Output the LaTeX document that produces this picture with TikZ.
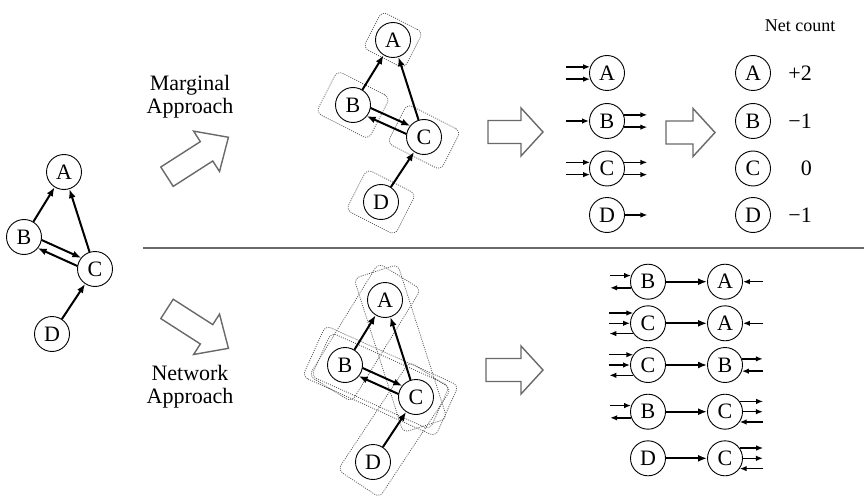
\documentclass[tikz,border=0pt]{standalone}
\usepackage{fontspec}
\setmainfont{Liberation Serif}
\usetikzlibrary{arrows.meta,calc,backgrounds}
\definecolor{shellgray}{RGB}{105,105,105}
\definecolor{boxgray}{RGB}{85,85,85}

\tikzset{
  vtx/.style={circle,draw,fill=white,line width=0.9pt,minimum size=35pt,inner sep=0pt,font=\fontsize{22}{24}\selectfont},
  edge/.style={-{Latex[length=9pt,width=7pt]},line width=2pt},
  dbl/.style={edge,shorten <=17pt,shorten >=17pt},
  stub/.style={-{Latex[length=7pt,width=5.5pt]},line width=1.4pt},
  blockarrow/.style={draw=shellgray,line width=1.4pt,fill=white,line join=miter},
  pairbox/.style={draw=boxgray,dash pattern=on 1pt off 1.2pt,rounded corners=6pt,line width=0.75pt,inner sep=0pt},
  lbl/.style={font=\fontsize{22}{23}\selectfont,align=center,inner sep=0pt},
}

% hollow arrow: tail point, angle, length, head length
\newcommand{\hollowarrow}[4]{%
  \begin{scope}[shift={#1},rotate=#2]
    \draw[blockarrow] (0,-11.5) -- ({#3-#4},-11.5) -- ({#3-#4},-24) -- (#3,0)
      -- ({#3-#4},24) -- ({#3-#4},11.5) -- (0,11.5) -- cycle;
  \end{scope}}

% dotted box round a pair of nodes
\newcommand{\edgebox}[4]{%
  \path let \p1=($(#2)-(#1)$), \n1={atan2(\y1,\x1)}, \n2={veclen(\x1,\y1)} in
    node[pairbox,rotate=\n1,minimum width=\n2+#3,minimum height=#4] (box#1#2) at ($(#1)!0.5!(#2)$) {};}

\begin{document}
\begin{tikzpicture}[x=1pt,y=-1pt]
    \useasboundingbox (0,0) rectangle (864,497);

    % The three copies of the graph
    \foreach \g/\x/\y in {l/64/172, m/393/40, n/385/300} {
        \node[vtx] (\g A) at (\x,\y) {A};
        \node[vtx] (\g B) at ($(\g A)+(-40,65)$) {B};
        \node[vtx] (\g C) at ($(\g A)+(31,97)$) {C};
        \node[vtx] (\g D) at ($(\g A)+(-12,162)$) {D};
        \draw[edge] (\g B) -- (\g A);
        \draw[edge] (\g C) -- (\g A);
        \draw[edge] (\g D) -- (\g C);
        \draw[dbl] ($(\g B)!4.5pt!90:(\g C)$) -- ($(\g C)!4.5pt!-90:(\g B)$);
        \draw[dbl] ($(\g C)!4.5pt!90:(\g B)$) -- ($(\g B)!4.5pt!-90:(\g C)$);
    }

    % Dotted boxes
    \begin{scope}[on background layer]
        \node[pairbox,minimum width=46pt,minimum height=41pt,rotate=-27] (boxA) at (mA) {};
        \node[pairbox,minimum width=59pt,minimum height=47pt,rotate=-27] (boxB) at (mB) {};
        \node[pairbox,minimum width=60pt,minimum height=44pt,rotate=-27] (boxC) at (mC) {};
        \node[pairbox,minimum width=55pt,minimum height=46pt,rotate=-27] (boxD) at (mD) {};
        \edgebox{nB}{nA}{56pt}{50pt}
        \edgebox{nC}{nA}{60pt}{46pt}
        \edgebox{nB}{nC}{52pt}{48pt}
        \edgebox{nC}{nB}{68pt}{56pt}
        \edgebox{nD}{nC}{52pt}{50pt}
    \end{scope}

    % Separator
    \draw[draw=shellgray,line width=1.3pt] (143,248) -- (864,248);

    % Approach labels and hollow arrows
    \node[lbl] (marglbl) at (190,97) {Marginal\\Approach};
    \node[lbl] (netlbl) at (190,387) {Network\\Approach};
    \hollowarrow{(167,176.7)}{32.7}{73}{26}
    \hollowarrow{(167,308.9)}{-32.7}{73}{26}
    \hollowarrow{(488,132)}{0}{55}{22}
    \hollowarrow{(666,132.5)}{0}{49}{22}
    \hollowarrow{(486,370)}{0}{57}{22}

    % Marginal counts
    \node[vtx] (cA) at (607,73) {A};
    \node[vtx] (cB) at (607,121) {B};
    \node[vtx] (cC) at (607,168.5) {C};
    \node[vtx] (cD) at (607,215) {D};
    \draw[stub] ([xshift=-24pt]cA.160) -- (cA.160);
    \draw[stub] ([xshift=-24pt]cA.200) -- (cA.200);
    \draw[stub] ([xshift=-23pt]cB.180) -- (cB.180);
    \draw[stub] (cB.20) -- ([xshift=23.5pt]cB.20);
    \draw[stub] (cB.340) -- ([xshift=23.5pt]cB.340);
    \draw[stub] ([xshift=-24pt]cC.160) -- (cC.160);
    \draw[stub] ([xshift=-24pt]cC.200) -- (cC.200);
    \draw[stub] (cC.20) -- ([xshift=23.5pt]cC.20);
    \draw[stub] (cC.340) -- ([xshift=23.5pt]cC.340);
    \draw[stub] (cD.0) -- ([xshift=22.5pt]cD.0);

    % Net count
    \node[font=\fontsize{18}{20}\selectfont] (nettitle) at (800,26) {Net count};
    \node[vtx] (tA) at (753,73) {A};
    \node[vtx] (tB) at (753,121) {B};
    \node[vtx] (tC) at (753,168.5) {C};
    \node[vtx] (tD) at (753,215) {D};
    \node[lbl,anchor=east] (vA) at (812,73) {+2};
    \node[lbl,anchor=east] (vB) at (812,121) {−1};
    \node[lbl,anchor=east] (vC) at (812,168.5) {0};
    \node[lbl,anchor=east] (vD) at (812,215) {−1};

    % Network pairs
    \node[vtx] (r1L) at (648,281.7) {B};  \node[vtx] (r1R) at (725,281.7) {A};
    \node[vtx] (r2L) at (648,323.3) {C};  \node[vtx] (r2R) at (725,323.3) {A};
    \node[vtx] (r3L) at (648,365) {C};    \node[vtx] (r3R) at (725,365) {B};
    \node[vtx] (r4L) at (648,411.7) {B};  \node[vtx] (r4R) at (725,411.7) {C};
    \node[vtx] (r5L) at (648,458.3) {D};  \node[vtx] (r5R) at (725,458.3) {C};
    \foreach \r in {1,...,5}
        \draw[edge] (r\r L) -- (r\r R);

    \draw[stub] ([xshift=-21pt]r1L.160) -- (r1L.160);
    \draw[stub] (r1L.200) -- ([xshift=-21pt]r1L.200);
    \draw[stub] ([xshift=20pt]r1R.0) -- (r1R.0);

    \draw[stub] ([xshift=-24pt]r2L.145) -- (r2L.145);
    \draw[stub] ([xshift=-21pt]r2L.180) -- (r2L.180);
    \draw[stub] (r2L.215) -- ([xshift=-24pt]r2L.215);
    \draw[stub] ([xshift=20pt]r2R.0) -- (r2R.0);

    \draw[stub] ([xshift=-24pt]r3L.145) -- (r3L.145);
    \draw[stub] ([xshift=-21pt]r3L.180) -- (r3L.180);
    \draw[stub] (r3L.215) -- ([xshift=-24pt]r3L.215);
    \draw[stub] (r3R.20) -- ([xshift=21pt]r3R.20);
    \draw[stub] ([xshift=21pt]r3R.340) -- (r3R.340);

    \draw[stub] ([xshift=-21pt]r4L.160) -- (r4L.160);
    \draw[stub] (r4L.200) -- ([xshift=-21pt]r4L.200);
    \draw[stub] (r4R.35) -- ([xshift=23.5pt]r4R.35);
    \draw[stub] (r4R.0) -- ([xshift=20pt]r4R.0);
    \draw[stub] ([xshift=23.5pt]r4R.325) -- (r4R.325);

    \draw[stub] (r5R.35) -- ([xshift=23.5pt]r5R.35);
    \draw[stub] (r5R.0) -- ([xshift=20pt]r5R.0);
    \draw[stub] ([xshift=23.5pt]r5R.325) -- (r5R.325);
\end{tikzpicture}
\end{document}
